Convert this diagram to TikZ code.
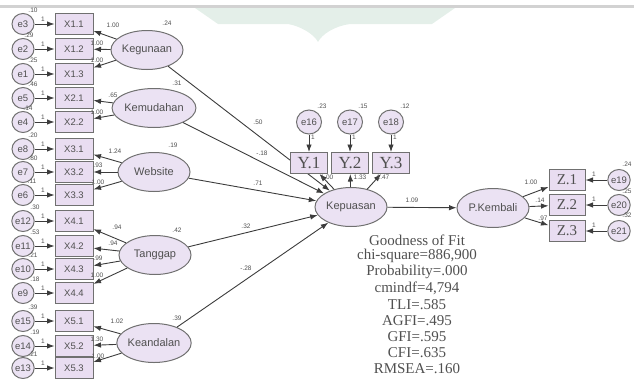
\documentclass[tikz,border=0pt]{standalone}
\usepackage{fontspec}
\setmainfont{Liberation Serif}
\setsansfont{Liberation Sans}
\usetikzlibrary{shapes.geometric,arrows.meta}
\definecolor{lav}{HTML}{EBE2F3}
\definecolor{boxf}{HTML}{E9DDF1}
\definecolor{edge}{HTML}{707070}
\definecolor{txt}{HTML}{505050}
\definecolor{ln}{HTML}{3C3C3C}
\definecolor{wm}{HTML}{E4EFE9}
\newcommand\myfs[1]{\fontsize{#1}{#1}\selectfont}
\begin{document}
\begin{tikzpicture}[x=1pt,y=-1pt,
 errc/.style={ellipse,draw=edge,line width=1pt,fill=lav,minimum width=22,minimum height=21,inner sep=0,font=\sffamily\myfs{9.5},text=txt},
 obsx/.style={rectangle,draw=edge,line width=1pt,fill=boxf,minimum width=38,minimum height=21,inner sep=0,font=\sffamily\myfs{9.5},text=txt},
 obsy/.style={obsx,minimum width=37,font=\rmfamily\myfs{17}},
 latv/.style={ellipse,draw=edge,line width=1pt,fill=lav,minimum width=72,minimum height=39,inner sep=0,font=\sffamily\myfs{11},text=txt},
 arr/.style={draw=ln,line width=0.9pt,-{Latex[length=7.5pt,width=5.5pt]}},
 sm/.style={font=\sffamily\myfs{6.5},text=txt,inner sep=0},
 gof/.style={font=\rmfamily\myfs{15},text=txt,inner sep=0}
]
\useasboundingbox (0,0) rectangle (634,378);
% watermark band
\fill[wm] (195,8) -- (455,8) -- (432,24) -- (350,24) .. controls (335,26) and (322,34) .. (318,42) .. controls (314,34) and (300,26) .. (288,24) -- (218,24) -- cycle;
\draw[gray!35,line width=2.5pt] (0,6.5) -- (634,6.5);

% left measurement rows
\foreach \n/\t/\y/\e/\v/\vx in {X11/X1.1/24/e3/.10/33, X12/X1.2/49/e2/.29/29, X13/X1.3/74/e1/.25/33,
  X21/X2.1/98/e5/.46/33, X22/X2.2/122/e4/.14/28, X31/X3.1/149/e8/.20/33, X32/X3.2/172/e7/.80/33,
  X33/X3.3/195/e6/.11/32, X41/X4.1/221/e12/.30/35, X42/X4.2/246/e11/.53/35, X43/X4.3/269/e10/.21/33,
  X44/X4.4/293/e9/.18/35, X51/X5.1/321/e15/.39/33, X52/X5.2/346/e14/.19/35, X53/X5.3/368/e13/.21/33} {
  \node[obsx] (\n) at (74,\y) {\t};
  \node[errc] (\e) at (23,\y) {\e};
  \draw[arr] (\e) -- (\n);
  \node[sm] (o\n) at (43,\y-5) {1};
  \node[sm] (v\e) at (\vx,\y-14) {\v};
}

% latent exogenous
\node[latv] (Keg) at (147,50) {Kegunaan};
\node[latv] (Kem) at (154,108) {Kemudahan};
\node[latv] (Web) at (154,172) {Website};
\node[latv] (Tan) at (155,255) {Tanggap};
\node[latv] (Kea) at (154,343) {Keandalan};

\foreach \a/\b in {Keg/X11,Keg/X12,Keg/X13,Kem/X21,Kem/X22,Web/X31,Web/X32,Web/X33,
  Tan/X41,Tan/X42,Tan/X43,Tan/X44,Kea/X51,Kea/X52,Kea/X53}
  \draw[arr] (\a) -- (\b);

% loading labels
\foreach \t/\x/\y [count=\i] in {1.00/113/25, 1.00/97/43, 1.00/97/60, .65/113/95, 1.00/97/112,
  1.24/115/151, .93/98/165, 1.00/98/182, .94/117/227, .94/113/243, .99/98/258, 1.00/97/275,
  1.02/117/321, 1.30/97/339, 1.00/98/356}
  \node[sm] (ld\i) at (\x,\y) {\t};

% latent variances
\node[sm] (vKeg) at (167,23) {.24};
\node[sm] (vKem) at (177,83) {.31};
\node[sm] (vWeb) at (173,145) {.19};
\node[sm] (vTan) at (177,230) {.42};
\node[sm] (vKea) at (177,318) {.39};

% endogenous
\node[latv] (Kep) at (351,207) {Kepuasan};
\node[latv] (PK) at (493,208) {P.Kembali};

\foreach \a in {Keg,Kem,Web,Tan,Kea}
  \draw[arr] (\a) -- (Kep);
\node[sm] (s1) at (258,122) {.50};
\node[sm] (s2) at (262,153) {-.18};
\node[sm] (s3) at (258,183) {.71};
\node[sm] (s4) at (246,226) {.32};
\node[sm] (s5) at (246,268) {-.28};

% Y indicators
\foreach \n/\t/\x/\e/\v/\vx/\l/\lx in {Y1/Y.1/309/e16/.23/322/1.00/327, Y2/Y.2/350/e17/.15/363/1.33/360, Y3/Y.3/391/e18/.12/405/1.47/383} {
  \node[obsy] (\n) at (\x,163) {\t};
  \node[errc,minimum width=25,minimum height=24] (\e) at (\x,122) {\e};
  \draw[arr] (\e) -- (\n);
  \node[sm] (o\n) at (\x+4,137) {1};
  \node[sm] (v\e) at (\vx,106) {\v};
  \draw[arr] (Kep) -- (\n);
  \node[sm] (l\n) at (\lx,177) {\l};
}

\draw[arr] (Kep) -- (PK);
\node[sm] (lPK) at (412,200) {1.09};

% Z indicators
\foreach \n/\t/\y/\e/\v/\vy/\l/\lx/\ly in {Z1/Z.1/180/e19/.24/164/1.00/531/182, Z2/Z.2/205/e20/.25/191/.14/540/200, Z3/Z.3/231/e21/.32/215/.97/543/218} {
  \node[obsy,minimum width=36,font=\rmfamily\myfs{15}] (\n) at (567,\y) {\t};
  \node[errc] (\e) at (619,\y) {\e};
  \draw[arr] (\e) -- (\n);
  \node[sm] (o\n) at (594,\y-6) {1};
  \node[sm] (v\e) at (627,\vy) {\v};
  \draw[arr] (PK) -- (\n);
  \node[sm] (l\n) at (\lx,\ly) {\l};
}

% goodness of fit
\foreach \t/\y [count=\i] in {Goodness of Fit/240, chi-square=886{,}900/256, Probability=.000/272,
  cmindf=4{,}794/288, TLI=.585/305, AGFI=.495/321, GFI=.595/337, CFI=.635/353, RMSEA=.160/369}
  \node[gof] (g\i) at (417,\y) {\t};
\end{tikzpicture}
\end{document}
